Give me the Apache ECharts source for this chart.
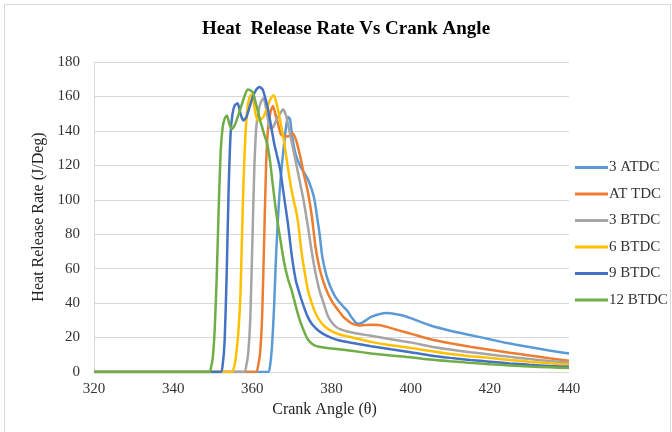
<!DOCTYPE html>
<html>
<head>
<meta charset="utf-8">
<script src="https://cdn.jsdelivr.net/npm/echarts@6/dist/echarts.min.js"></script>
<style>
  html, body { margin: 0; padding: 0; background: #fff; }
  #chart { width: 672px; height: 432px; }
</style>
</head>
<body>
<div id="chart"></div>
<script>
// crank angle (deg), heat release rate (J/Deg)
const seriesNames = ['3 ATDC', 'AT TDC', '3 BTDC', '6 BTDC', '9 BTDC', '12 BTDC'];
const colors = ['#5B9BD5', '#ED7D31', '#A5A5A5', '#FFC000', '#4472C4', '#70AD47'];
const yTicks = [0, 20, 40, 60, 80, 100, 120, 140, 160, 180];
const xTicks = [320, 340, 360, 380, 400, 420, 440];

const atdc3 = [[320,0],[364,0],[364.5,4],[365,16],[365.5,38],[366,68],[366.5,90],[367,108],[367.5,121],[368,132],[368.5,142],[369,148],[369.5,147],[370,138],[370.5,131],[371,126],[372,120],[373,116],[374,112],[375,106],[375.7,100],[376.3,91],[377,80],[377.6,68],[378.3,60],[379,54],[380,48],[381,43.5],[382,40.5],[383,38],[384,35.5],[385,32],[386,29],[386.8,28],[388,29],[389,30.5],[390,32],[392,33.5],[394,34.2],[396,33.7],[398,32.8],[400,31.3],[402,29.5],[405,27],[410,24],[415,21.5],[420,19],[425,16.5],[430,14.5],[435,12.5],[440,10.8]];
const attdc = [[320,0],[360.9,0],[361.5,4],[362,12],[362.5,34],[363,78],[363.5,122],[364,142],[364.6,151],[365.2,154.5],[365.8,150],[366.5,144],[367.2,138],[368,137],[369,136.8],[369.7,137.5],[370.3,138.5],[371,135],[371.6,130],[372.3,123],[373,115],[374,105],[375,91],[376,72],[377,60],[378,52],[379,46],[380,41.5],[381,38],[382,35],[383,32],[384,30],[385,28.3],[386,27.5],[387,27],[388,27.2],[390,27.5],[392,27.3],[394,26.2],[396,24.8],[398,23.5],[400,22.3],[405,19],[410,16.7],[415,14.7],[420,12.9],[425,11.2],[430,9.6],[435,8],[440,6.6]];
const btdc3 = [[320,0],[357.9,0],[358.5,4],[359,12],[359.5,32],[360,75],[360.5,118],[361,142],[361.6,152],[362.2,157],[362.8,159],[363.4,154],[364,146],[364.5,141.5],[365.2,142],[366,146],[367,150],[367.8,152.5],[368.5,149],[369,144],[370,133],[370.8,124],[371.6,115],[372.4,106],[373,99],[374,85],[375,70],[376,57],[377,47],[378,40],[379,33],[380,29],[381,26.5],[382,25],[384,23.5],[386,22.5],[390,21],[395,19],[400,17.2],[405,14.8],[410,13],[415,11.5],[420,10.2],[425,8.8],[430,7.5],[435,6.4],[440,5.4]];
const btdc6 = [[320,0],[354.8,0],[355.5,4],[356,12],[356.5,24],[357,45],[357.4,80],[357.8,112],[358.2,135],[358.7,152],[359.2,159],[359.7,161],[360.3,157],[360.8,150],[361.4,146],[362,146.5],[362.8,148],[363.5,152],[364.3,157],[365,160],[365.5,160.5],[366,157],[366.6,151],[367.2,144],[368,134],[368.7,123],[369.5,111],[370.3,101],[371,94],[371.6,86],[372.4,70],[373,61],[374,48],[375,40],[376,34],[377,30],[378,27],[380,23.7],[382,21.8],[385,20.2],[390,17.5],[395,15.5],[400,14],[405,12.2],[410,10.4],[415,9.2],[420,8.2],[425,7],[430,6],[435,5.1],[440,4.3]];
const btdc9 = [[320,0],[352,0],[352.5,4],[353,18],[353.5,55],[354,105],[354.5,138],[355,150],[355.6,155],[356.3,156],[357,150],[357.7,146],[358.5,148],[359.2,153],[360,159],[361,164],[361.8,165.5],[362.6,164],[363.4,158],[364,152],[364.8,142],[365.5,133],[366.2,126],[367,118],[368,102],[369,86],[370,67],[371,53],[372,45],[373,38],[374,32],[375,28],[376,25.5],[377,23.5],[378,22],[380,19.8],[382,18.3],[385,17],[390,15],[395,13.2],[400,11.5],[405,9.6],[410,8.2],[415,7],[420,6],[425,5],[430,4.2],[435,3.5],[440,3]];
const btdc12 = [[320,0],[349.2,0],[349.6,3],[350,8],[350.5,25],[351,55],[351.5,95],[352,128],[352.5,142],[353,147],[353.6,149],[354.2,144],[354.8,141],[355.5,143],[356,146],[357,153],[358,160],[358.8,164],[359.5,163.5],[360.2,162],[361,155],[362,146],[363,138],[363.8,132],[364.5,122],[365,112],[366,93],[367,78],[368,64],[369,54],[370,47],[371,38],[372,30],[373,24],[374,19],[375,16.5],[376,15.2],[378,14.2],[380,13.7],[385,12.3],[390,10.8],[395,9.6],[400,8.6],[405,7.2],[410,6.2],[415,5.3],[420,4.5],[425,3.8],[430,3.2],[435,2.7],[440,2.3]];

const allData = [atdc3, attdc, btdc3, btdc6, btdc9, btdc12];

const font = 'Liberation Serif, Times New Roman, serif';
let myChart = echarts.init(document.getElementById('chart'));

let option = {
    animation: false,
    color: colors,
    title: {
        text: 'Heat  Release Rate Vs Crank Angle',
        left: 341,
        textAlign: 'center',
        top: 15,
        textStyle: { fontFamily: font, fontSize: 19, fontWeight: 'bold', color: '#000' }
    },
    graphic: [{
        type: 'rect',
        shape: { x: 4.5, y: 4.5, width: 666, height: 440 },
        style: { fill: 'none', stroke: '#d9d9d9', lineWidth: 1 }
    }],
    grid: { left: 94, right: 103, top: 62, bottom: 60 },
    legend: {
        orient: 'vertical',
        left: 570,
        top: 155,
        icon: 'rect',
        itemWidth: 33,
        itemHeight: 3,
        itemGap: 11.5,
        data: seriesNames,
        textStyle: { fontFamily: font, fontSize: 15, color: '#333', padding: [0, 0, 0, -4] }
    },
    xAxis: {
        type: 'value',
        min: xTicks[0],
        max: xTicks[xTicks.length - 1],
        interval: 20,
        name: 'Crank Angle (θ)',
        nameLocation: 'middle',
        nameGap: 27,
        nameTextStyle: { fontFamily: font, fontSize: 16, color: '#222', padding: [0, 14, 0, 0] },
        axisLine: { lineStyle: { color: '#d9d9d9' } },
        axisTick: { show: false },
        splitLine: { show: false },
        axisLabel: { fontFamily: font, fontSize: 15, color: '#333', margin: 10 }
    },
    yAxis: {
        type: 'value',
        min: yTicks[0],
        max: yTicks[yTicks.length - 1],
        interval: 20,
        name: 'Heat Release Rate (J/Deg)',
        nameLocation: 'middle',
        nameGap: 44,
        nameTextStyle: { fontFamily: font, fontSize: 16, color: '#222' },
        axisLine: { show: true, lineStyle: { color: '#d9d9d9' } },
        axisTick: { show: false },
        splitLine: { lineStyle: { color: '#d9d9d9' } },
        axisLabel: { fontFamily: font, fontSize: 15, color: '#333', margin: 14 }
    },
    series: seriesNames.map((name, i) => ({
        name: name,
        type: 'line',
        data: allData[i],
        showSymbol: false,
        smooth: 0.2,
        lineStyle: { width: 2.5, color: colors[i] }
    }))
};

option && myChart.setOption(option);
</script>
</body>
</html>
